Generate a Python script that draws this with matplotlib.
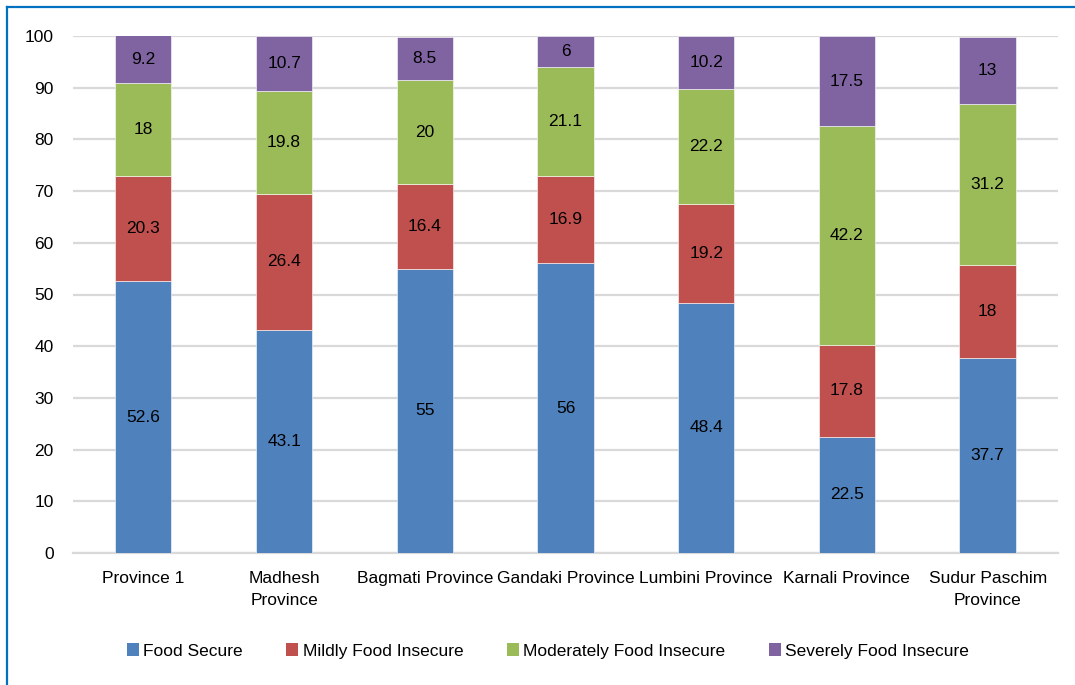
import matplotlib
matplotlib.use("Agg")
import matplotlib.pyplot as plt
from matplotlib.lines import Line2D
from matplotlib.patches import Patch
import numpy as np

plt.rcParams['font.family'] = ['Liberation Sans', 'DejaVu Sans']

provinces = ["Province 1", "Madhesh\nProvince", "Bagmati Province", "Gandaki Province",
             "Lumbini Province", "Karnali Province", "Sudur Paschim\nProvince"]
food_secure = [52.6, 43.1, 55, 56, 48.4, 22.5, 37.7]
mildly = [20.3, 26.4, 16.4, 16.9, 19.2, 17.8, 18]
moderately = [18, 19.8, 20, 21.1, 22.2, 42.2, 31.2]
severely = [9.2, 10.7, 8.5, 6, 10.2, 17.5, 13]

series = [
    ("Food Secure", food_secure, "#4F81BD"),
    ("Mildly Food Insecure", mildly, "#C0504D"),
    ("Moderately Food Insecure", moderately, "#9BBB59"),
    ("Severely Food Insecure", severely, "#8064A2"),
]

fig = plt.figure(figsize=(10.75, 6.85), dpi=100)
ax = fig.add_axes([73 / 1075, 1 - 553 / 685, 985 / 1075, (553 - 36) / 685])

x = np.arange(len(provinces))
bottom = np.zeros(len(provinces))
handles = []
for name, vals, color in series:
    vals = np.array(vals, dtype=float)
    ax.bar(x, vals, width=0.40, bottom=bottom, color=color,
           edgecolor="white", linewidth=0.4, zorder=3)
    for xi, b, v in zip(x, bottom, vals):
        top = min(b + v, 100)
        ax.text(xi, (b + top) / 2, f"{v:g}", ha="center", va="center",
                fontsize=12.5, color="black", zorder=4)
    bottom += vals
    handles.append(Patch(facecolor=color, edgecolor="none", label=name))

ax.set_xlim(-0.5, len(provinces) - 0.5)
ax.set_ylim(0, 100)
ax.set_yticks(np.arange(0, 101, 10))
ax.yaxis.grid(True, color="#D9D9D9", linewidth=1.6, zorder=0)
ax.set_axisbelow(True)
for s in ["top", "right", "left"]:
    ax.spines[s].set_visible(False)
ax.spines["bottom"].set_color("#D9D9D9")
ax.spines["bottom"].set_linewidth(1.6)
ax.tick_params(axis="both", length=0, labelsize=12.5, colors="black")
ax.tick_params(axis="y", pad=14)
ax.tick_params(axis="x", pad=13)
ax.set_xticks(x)
ax.set_xticklabels(provinces, linespacing=1.55)

fig.legend(handles=handles, loc="center", bbox_to_anchor=(548 / 1075, 1 - 651 / 685),
           ncol=4, frameon=False, fontsize=12.5, handlelength=0.7, handleheight=0.7,
           handletextpad=0.25, columnspacing=2.5)

# outer frame lines
fig.add_artist(Line2D([7 / 1075, 7 / 1075], [0, 1 - 7 / 685], transform=fig.transFigure,
                      color="#0070C0", linewidth=1.6))
fig.add_artist(Line2D([7 / 1075, 1], [1 - 7 / 685, 1 - 7 / 685], transform=fig.transFigure,
                      color="#0070C0", linewidth=1.6))

fig.savefig("out.png", dpi=100)
